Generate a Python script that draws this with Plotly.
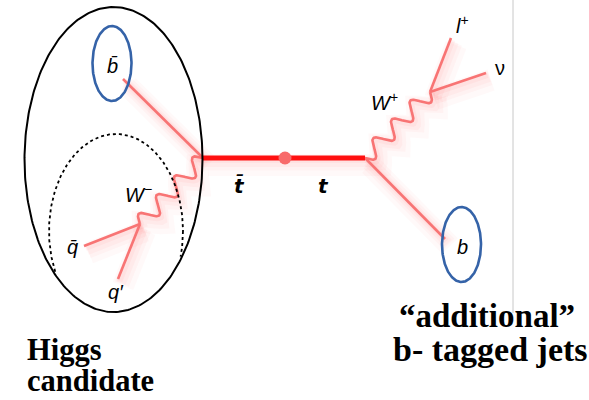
import numpy as np
import plotly.graph_objects as go

W, H = 589, 400

# Vertices of the ttbar decay diagram (pixel frame, y grows downward)
tbar_vertex = [203, 158]
top_vertex = [365, 158]
prop_dot = [285, 158]
wminus_vertex = [140, 224]
wplus_vertex = [430, 92]

# Fermion legs: start vertex and end point
leg_names = ["bbar", "qbar", "qprime", "lplus", "nu", "b"]
leg_start = [tbar_vertex, wminus_vertex, wminus_vertex, wplus_vertex, wplus_vertex, top_vertex]
leg_end = [[123, 79], [84, 246], [118, 279], [451, 38], [486, 73], [445, 239]]

# Boson legs (wavy): start, end, number of cycles
boson_start = [tbar_vertex, top_vertex]
boson_end = [wminus_vertex, wplus_vertex]
boson_cycles = [3.5, 3.5]

# Particle labels
label_text = ["<i>b\u0304</i>", "<i>W</i><sup>\u2212</sup>", "<i>q\u0304</i>", "<i>q\u2032</i>",
              "<i>W</i><sup>+</sup>", "<i>l</i><sup>+</sup>", "\u03bd", "<i>b</i>"]
label_x = [112, 138, 72, 116, 384, 462, 500, 462]
label_y = [66, 193, 247, 292, 101, 24, 68, 247]

prop_text = ["<b><i>t\u0304</i></b>", "<b><i>t</i></b>"]
prop_x = [239, 323]
prop_y = [186, 186]

# Captions
caption_text = ["<b>Higgs</b>", "<b>candidate</b>",
                "<b>\u201cadditional\u201d</b>", "<b>b- tagged jets</b>"]
caption_x = [25, 25, 397, 391]
caption_y = [350, 381, 316, 349]
caption_size = [30.5, 30.5, 33, 34]

LINE_RED = "#f87474"

fig = go.Figure()


def add_path(xs, ys, color, width, dash="solid"):
    fig.add_trace(go.Scatter(x=xs, y=ys, mode="lines", hoverinfo="skip",
                             line=dict(color=color, width=width, dash=dash),
                             showlegend=False))


def glow_path(xs, ys):
    # soft pink haze trailing below-right of each line
    xs = np.asarray(xs, float)
    ys = np.asarray(ys, float)
    for dx, dy, w, a in [(5, 7, 22, 0.035), (4, 5, 15, 0.045), (3, 4, 10, 0.05), (1.5, 2, 6, 0.06)]:
        add_path(xs + dx, ys + dy, f"rgba(255,90,90,{a})", w)


def wave(p0, p1, cycles, amp=8.0, n=240):
    p0 = np.asarray(p0, float)
    p1 = np.asarray(p1, float)
    d = p1 - p0
    L = np.hypot(*d)
    u = d / L
    nrm = np.array([-u[1], u[0]])
    s = np.linspace(0, 1, n)
    off = amp * np.sin(2 * np.pi * cycles * s)
    pts = p0[None, :] + s[:, None] * d[None, :] + off[:, None] * nrm[None, :]
    return pts[:, 0], pts[:, 1]


def ellipse(cx, cy, rx, ry, n=300):
    t = np.linspace(0, 2 * np.pi, n)
    return cx + rx * np.cos(t), cy + ry * np.sin(t)


# Light panel edge on the right of the diagram
add_path([513, 513], [0, 313], "#c8c8c8", 1)

# Glow under every line
for s, e in zip(leg_start, leg_end):
    glow_path([s[0], e[0]], [s[1], e[1]])
for s, e, c in zip(boson_start, boson_end, boson_cycles):
    glow_path(*wave(s, e, c))
glow_path([tbar_vertex[0], top_vertex[0]], [tbar_vertex[1], top_vertex[1]])

# Fermion legs
for s, e in zip(leg_start, leg_end):
    add_path([s[0], e[0]], [s[1], e[1]], LINE_RED, 2.6)

# W bosons
for s, e, c in zip(boson_start, boson_end, boson_cycles):
    add_path(*wave(s, e, c), LINE_RED, 2.6)

# top propagator
add_path([tbar_vertex[0], top_vertex[0]], [tbar_vertex[1], top_vertex[1]], "#ff1010", 5)
fig.add_trace(go.Scatter(x=[prop_dot[0]], y=[prop_dot[1]], mode="markers", hoverinfo="skip",
                         marker=dict(size=13, color="#f86a6a", line=dict(width=0)),
                         showlegend=False))

# Higgs candidate ellipse
big = dict(cx=113.5, cy=159.5, rx=89, ry=152.5)
bx, by = ellipse(**big)
add_path(bx, by, "black", 2)

# Dotted W- jet ellipse, kept inside the large ellipse
dx, dy = ellipse(116, 231, 67, 97, n=400)
inside = ((dx - big["cx"]) / big["rx"]) ** 2 + ((dy - big["cy"]) / big["ry"]) ** 2 <= 0.975
dx = np.where(inside, dx, np.nan)
dy = np.where(inside, dy, np.nan)
add_path(dx, dy, "black", 1.8, dash="dot")

# b-jet circles
for cx, cy in [(112, 63.5), (461.5, 244.5)]:
    ex, ey = ellipse(cx, cy, 19.5, 37.5)
    add_path(ex, ey, "#3563a8", 2.6)

# Particle labels
for t, x, y in zip(label_text, label_x, label_y):
    fig.add_annotation(x=x, y=y, text=t, showarrow=False, xanchor="center", yanchor="middle",
                       font=dict(family="Liberation Sans", size=20, color="black"))
for t, x, y in zip(prop_text, prop_x, prop_y):
    fig.add_annotation(x=x, y=y, text=t, showarrow=False, xanchor="center", yanchor="middle",
                       font=dict(family="DejaVu Sans", size=20, color="black"))

# Captions
for t, x, y, sz in zip(caption_text, caption_x, caption_y, caption_size):
    fig.add_annotation(x=x, y=y, text=t, showarrow=False, xanchor="left", yanchor="middle",
                       font=dict(family="Liberation Serif", size=sz, color="black"))

fig.update_layout(
    width=W, height=H, margin=dict(l=0, r=0, t=0, b=0),
    paper_bgcolor="white", plot_bgcolor="white",
    xaxis=dict(range=[0, W], visible=False, fixedrange=True),
    yaxis=dict(range=[H, 0], visible=False, fixedrange=True),
)

fig.write_html("out.html", config={"displayModeBar": False})
